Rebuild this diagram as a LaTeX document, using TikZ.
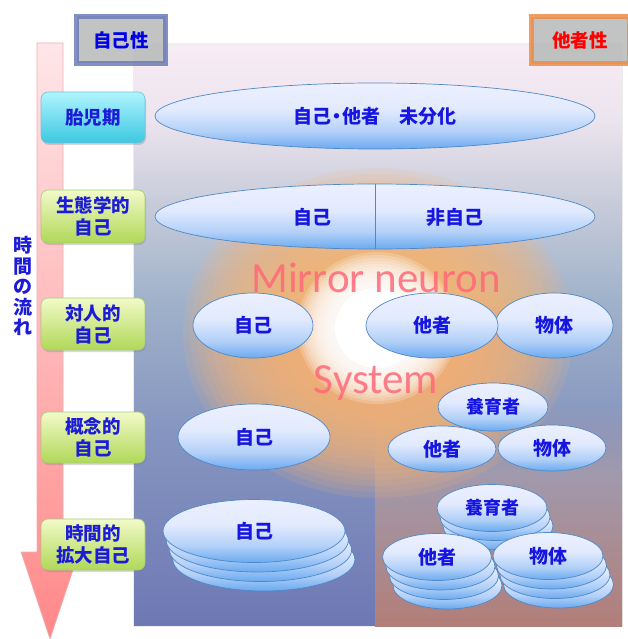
\documentclass[tikz,border=0pt]{standalone}
\usepackage{fontspec}
\setmainfont{Noto Sans CJK JP}
\newfontfamily\latinsans{Carlito}
\usetikzlibrary{shapes.geometric,shadows,fadings}

\definecolor{txtblue}{HTML}{1616E0}
\definecolor{lblblue}{HTML}{1C1CD8}
\definecolor{ellborder}{HTML}{4F88C6}
\definecolor{mirror}{HTML}{FF6878}
\definecolor{glowor}{HTML}{F8B474}

\pgfdeclareverticalshading{bgshade}{100bp}{%
 color(0bp)=(rgb,255:red,110;green,120;blue,180);
 color(25bp)=(rgb,255:red,110;green,120;blue,180);
 color(42bp)=(rgb,255:red,134;green,150;blue,192);
 color(53bp)=(rgb,255:red,160;green,178;blue,202);
 color(61.5bp)=(rgb,255:red,200;green,204;blue,218);
 color(68.5bp)=(rgb,255:red,236;green,228;blue,238);
 color(75bp)=(rgb,255:red,248;green,236;blue,246);
 color(100bp)=(rgb,255:red,248;green,236;blue,246)}

\pgfdeclareverticalshading{rshade}{100bp}{%
 color(0bp)=(rgb,255:red,178;green,126;blue,120);
 color(25bp)=(rgb,255:red,178;green,126;blue,120);
 color(75bp)=(rgb,255:red,160;green,154;blue,174);
 color(100bp)=(rgb,255:red,160;green,154;blue,174)}

\pgfdeclareverticalshading{ellshade}{100bp}{%
 color(0bp)=(rgb,255:red,106;green,170;blue,240);
 color(25bp)=(rgb,255:red,106;green,170;blue,240);
 color(38bp)=(rgb,255:red,178;green,208;blue,248);
 color(55bp)=(rgb,255:red,226;green,234;blue,254);
 color(75bp)=(rgb,255:red,236;green,240;blue,255);
 color(100bp)=(rgb,255:red,236;green,240;blue,255)}

\newcommand\jfs[2]{\fontsize{#1}{#2}\selectfont}

\tikzset{
 ell/.style={ellipse, draw=ellborder, line width=0.7pt, shading=ellshade,
   inner sep=0pt, text=txtblue, font=\bfseries\jfs{19}{22}},
 lblbase/.style={rounded corners=7pt, minimum width=104pt, align=center,
   text=lblblue, font=\bfseries\jfs{18.5}{22}, line width=0.6pt,
   drop shadow={shadow xshift=1pt, shadow yshift=-2pt, opacity=0.3}},
 lblC/.style={lblbase, draw=cyan!60!teal!60, top color={rgb,255:red,176;green,244;blue,255},
   bottom color={rgb,255:red,60;green,200;blue,224}},
 lblG/.style={lblbase, draw=olive!40!green!50, top color={rgb,255:red,242;green,250;blue,200},
   bottom color={rgb,255:red,176;green,216;blue,88}},
 hdr/.style={line width=5pt, font=\bfseries\jfs{18.5}{22}, minimum height=47pt,
   fill={rgb,255:red,184;green,188;blue,186}, fill opacity=0.88, text opacity=1, draw opacity=0.85},
 plain/.style={inner sep=0pt, text=txtblue, font=\bfseries\jfs{19}{22}},
 mntext/.style={anchor=base, inner sep=0pt, text=mirror, text opacity=0.85,
   font=\latinsans\fontsize{43}{45}\selectfont}
}

\begin{document}
\begin{tikzpicture}[x=1pt,y=-1pt]
\useasboundingbox (0,0) rectangle (627,639);

% background panel
\path[shading=bgshade, draw=white!85!gray, line width=0.6pt] (133,44) rectangle (622,626);
% lower right panel
\path[shading=rshade] (375,470) rectangle (622,626);
\path[fill={rgb,255:red,160;green,154;blue,174}, path fading=north] (375,400) rectangle (622,470);

% glow (layered)
\foreach \i in {0,...,19} {
  \fill[glowor, opacity=0.14] (378,333) ellipse [x radius={195-7*\i}, y radius={165-6*\i}];
}
\foreach \i in {0,...,11} {
  \fill[white, opacity=0.2] (377,328) ellipse [x radius={80-3*\i}, y radius={76-3*\i}];
}
\fill[white] (377,328) ellipse [x radius=42, y radius=40];

% mirror neuron text
\node[mntext] (mn1) at (376,292) {Mirror neuron};
\node[mntext] (mn2) at (376,393) {System};

% time arrow
\path[top color={rgb,255:red,255;green,230;blue,232}, bottom color={rgb,255:red,255;green,136;blue,136},
  draw={rgb,255:red,240;green,176;blue,184}, line width=0.6pt]
  (37,43) -- (63,43) -- (63,552) -- (79,552) -- (50,639) -- (21,552) -- (37,552) -- cycle;
\node[align=center, inner sep=0pt, text=lblblue, font=\bfseries\jfs{19}{20.5}] (flow) at (23,286) {時\\間\\の\\流\\れ};

% header boxes
\node[hdr, draw={rgb,255:red,108;green,124;blue,184}, minimum width=89pt, text=blue!90!black] (hself) at (121,40) {自己性};
\node[hdr, draw={rgb,255:red,236;green,140;blue,70}, minimum width=98pt, text=red] (hother) at (580,40.5) {他者性};

% stage labels
\node[lblC, minimum height=51pt] (l1) at (93,117.5) {胎児期};
\node[lblG, minimum height=53pt] (l2) at (93,216.5) {生態学的\\自己};
\node[lblG, minimum height=52pt] (l3) at (93,324) {対人的\\自己};
\node[lblG, minimum height=51pt] (l4) at (93,437.5) {概念的\\自己};
\node[lblG, minimum height=51pt] (l5) at (93,544.5) {時間的\\拡大自己};

% row 1
\node[ell, minimum width=440pt, minimum height=66pt] (e1) at (375,116) {自己\hspace{-0.2em}・\hspace{-0.2em}他者\hspace{1em}未分化};

% row 2
\node[ell, minimum width=440pt, minimum height=65pt] (e2) at (375,216.5) {};
\draw[ellborder, line width=0.7pt] (e2.north) -- (e2.south);
\node[plain] (t2a) at (312,217) {自己};
\node[plain] (t2b) at (455,217) {非自己};

% row 3
\node[ell, minimum width=120pt, minimum height=65pt] (e3a) at (253,325.5) {自己};
\node[ell, minimum width=118pt, minimum height=65pt] (e3c) at (554,325.5) {物体};
\node[ell, minimum width=132pt, minimum height=65pt] (e3b) at (432,325.5) {他者};

% row 4
\node[ell, minimum width=152pt, minimum height=66pt] (e4a) at (254,437) {自己};
\node[ell, minimum width=110pt, minimum height=48pt, font=\bfseries\jfs{18}{20}] (e4b) at (493,407) {養育者};
\node[ell, minimum width=108pt, minimum height=46pt] (e4c) at (442,449) {他者};
\node[ell, minimum width=108pt, minimum height=46pt] (e4d) at (552,448) {物体};

% row 5: stacked
\foreach \k in {3,2,1} {
  \node[ell, minimum width=182pt, minimum height=63pt] (s5a\k) at (254+3.3*\k,531+9.5*\k) {};
}
\node[ell, minimum width=182pt, minimum height=63pt] (e5a) at (254,531) {自己};

\foreach \k in {2,1} {
  \node[ell, minimum width=110pt, minimum height=47pt] (s5b\k) at (492+3*\k,508+9*\k) {};
}
\node[ell, minimum width=110pt, minimum height=47pt, font=\bfseries\jfs{18}{20}] (e5b) at (492,508) {養育者};

\foreach \k in {3,2,1} {
  \node[ell, minimum width=109pt, minimum height=47pt] (s5c\k) at (437+3.5*\k,557+9.5*\k) {};
}
\node[ell, minimum width=109pt, minimum height=47pt] (e5c) at (437,557) {他者};

\foreach \k in {3,2,1} {
  \node[ell, minimum width=110pt, minimum height=47pt] (s5d\k) at (548+3.5*\k,556+9.5*\k) {};
}
\node[ell, minimum width=110pt, minimum height=47pt] (e5d) at (548,556) {物体};

\end{tikzpicture}
\end{document}
